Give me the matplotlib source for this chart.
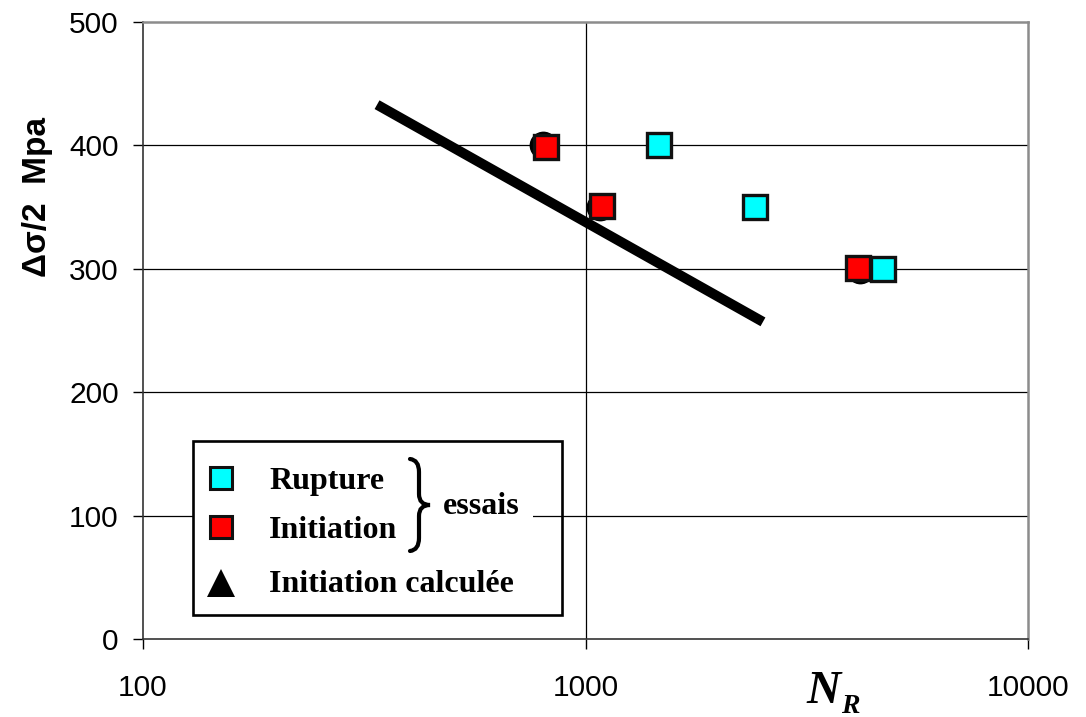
import matplotlib
matplotlib.use("Agg")
import matplotlib.pyplot as plt
from matplotlib.patches import Rectangle, PathPatch
from matplotlib.path import Path
from matplotlib.lines import Line2D

# Test data: number of cycles vs stress amplitude
rupture_n = [1468, 2420, 4710]
rupture_s = [400, 350, 300]
initiation_n = [813, 1088, 4121]
initiation_s = [399, 351, 301]
calc_n = [803, 1078, 4180]
calc_s = [400, 350, 299]
# Fitted initiation curve (end points)
fit_n = [338, 2518]
fit_s = [433, 257]

x_ticks = [100, 1000, 10000]
y_ticks = [0, 100, 200, 300, 400, 500]

W, H = 1086, 717
fig = plt.figure(figsize=(W / 100, H / 100), dpi=100)
ax = fig.add_axes([143 / W, 1 - 639 / H, (1028 - 143) / W, (639 - 22) / H])

ax.set_xscale("log")
ax.set_xlim(100, 10000)
ax.set_ylim(0, 500)
ax.set_xticks(x_ticks)
ax.set_xticklabels([str(v) for v in x_ticks])
ax.set_yticks(y_ticks)
ax.xaxis.set_minor_locator(matplotlib.ticker.NullLocator())

for lab in ax.get_xticklabels() + ax.get_yticklabels():
    lab.set_fontfamily("Liberation Sans")
    lab.set_fontsize(21.5)
ax.tick_params(axis="x", direction="out", length=7.5, width=1, pad=18, colors="black")
ax.tick_params(axis="y", direction="out", length=7.5, width=1, pad=10, colors="black")

for side in ("left", "bottom"):
    ax.spines[side].set_color("#333333")
    ax.spines[side].set_linewidth(1.2)
for side in ("top", "right"):
    ax.spines[side].set_color("#8c8c8c")
    ax.spines[side].set_linewidth(1.8)

# grid: horizontal at every stress tick, vertical only at 1000
for y in y_ticks[1:-1]:
    ax.axhline(y, color="black", lw=0.9, zorder=1)
ax.axvline(1000, color="black", lw=0.9, zorder=1)

ax.plot(fit_n, fit_s, color="black", lw=7.2, solid_capstyle="butt", zorder=3)

ax.plot(calc_n, calc_s, "o", ms=19, color="black", zorder=4, linestyle="none")
ax.plot(initiation_n, initiation_s, "s", ms=17.5, mfc="#ff0000", mec="#111111",
        mew=2.4, linestyle="none", zorder=5)
ax.plot(rupture_n, rupture_s, "s", ms=17.5, mfc="#00ffff", mec="#111111",
        mew=2.4, linestyle="none", zorder=6)

# Legend panel built by hand (figure pixel coordinates)
def fx(px):
    return px / W

def fy(py):
    return 1 - py / H

fig.patches.append(Rectangle((fx(193), fy(615)), fx(533) - fx(193), fy(441) - fy(615),
                             transform=fig.transFigure, facecolor="white",
                             edgecolor="none", zorder=7))
fig.patches.append(Rectangle((fx(193), fy(615)), fx(562) - fx(193), fy(441) - fy(615),
                             transform=fig.transFigure, facecolor="none",
                             edgecolor="black", lw=1.9, zorder=8))

fig.lines.append(Line2D([fx(221)], [fy(478)], marker="s", ms=16, mfc="#00ffff",
                        mec="#111111", mew=2.2, transform=fig.transFigure, zorder=9))
fig.lines.append(Line2D([fx(221)], [fy(527)], marker="s", ms=16, mfc="#ff0000",
                        mec="#111111", mew=2.2, transform=fig.transFigure, zorder=9))
fig.lines.append(Line2D([fx(221)], [fy(583)], marker="^", ms=20, mfc="black",
                        mec="black", mew=0, transform=fig.transFigure, zorder=9))

leg_font = dict(family="Liberation Serif", weight="bold", size=23)
fig.text(fx(269), fy(478), "Rupture", ha="left", va="center_baseline", zorder=9, **leg_font)
fig.text(fx(269), fy(527), "Initiation", ha="left", va="center_baseline", zorder=9, **leg_font)
fig.text(fx(269), fy(581), "Initiation calculée", ha="left", va="center_baseline",
         zorder=9, **leg_font)
fig.text(fx(443), fy(503), "essais", ha="left", va="center_baseline", zorder=9, **leg_font)

brace_pts = [(410, 459), (419, 460), (419, 472), (419, 494), (419, 505), (430, 505),
             (419, 505), (419, 516), (419, 538), (419, 550), (410, 551)]
brace_codes = [Path.MOVETO, Path.CURVE3, Path.CURVE3, Path.LINETO, Path.CURVE3,
               Path.CURVE3, Path.CURVE3, Path.CURVE3, Path.LINETO, Path.CURVE3,
               Path.CURVE3]
brace = Path([(fx(x), fy(y)) for x, y in brace_pts], brace_codes)
fig.patches.append(PathPatch(brace, transform=fig.transFigure, facecolor="none",
                             edgecolor="black", lw=3, capstyle="round", zorder=9))

# Axis titles
fig.text(fx(38), fy(197), "Δσ/2  Mpa", rotation=90, ha="center", va="center",
         family="Liberation Sans", weight="bold", size=24)
fig.text(fx(806), fy(703), "N", ha="left", va="baseline", family="Liberation Serif",
         weight="bold", style="italic", size=34)
fig.text(fx(841), fy(713), "R", ha="left", va="baseline", family="Liberation Serif",
         weight="bold", style="italic", size=20)

fig.savefig("out.png", dpi=100)
